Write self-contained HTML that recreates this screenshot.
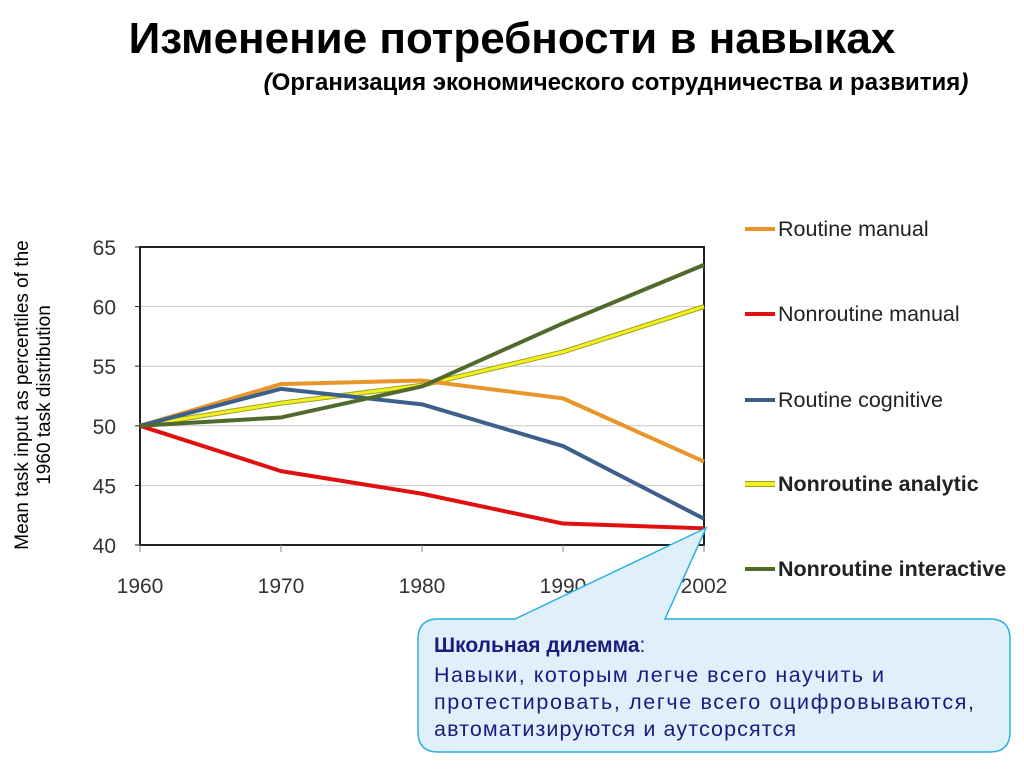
<!DOCTYPE html>
<html><head><meta charset="utf-8"><style>
body{margin:0;width:1024px;height:768px;background:#fff;overflow:hidden;font-family:"Liberation Sans","DejaVu Sans",sans-serif}
</style></head><body>
<svg width="1024" height="768" xmlns="http://www.w3.org/2000/svg">
<text x="512" y="53" text-anchor="middle" font-size="44" font-weight="bold" fill="#000">Изменение потребности в навыках</text>
<text x="616" y="90" text-anchor="middle" font-size="24" font-weight="bold" fill="#000"><tspan font-style="italic">(</tspan>Организация экономического сотрудничества и развития<tspan font-style="italic">)</tspan></text>
<g id="grid"></g>
<rect x="140" y="247" width="564" height="298" fill="none" stroke="#222" stroke-width="2"/>
<g id="axes"></g>
<g id="series"></g>
<g id="legend"></g>
<text transform="translate(28,395) rotate(-90)" text-anchor="middle" font-size="19" fill="#000"><tspan x="0" dy="0">Mean task input as percentiles of  the</tspan><tspan x="0" dy="22">1960 task distribution</tspan></text>
<g>
<path d="M440,619 L515,619 L706,528 L665,619 L990,619 Q1010,619 1010,639 L1010,732 Q1010,752 990,752 L438,752 Q418,752 418,732 L418,639 Q418,619 438,619 Z" fill="#dff0fb" stroke="#29b0e0" stroke-width="1.5"/>
<text x="434" y="652" font-size="21" fill="#1a1a80"><tspan font-weight="bold">Школьная дилемма</tspan>:</text>
<text x="434" y="682" font-size="21.5" fill="#1a1a80" textLength="450">Навыки, которым легче всего научить и</text>
<text x="434" y="709" font-size="21.5" fill="#1a1a80" textLength="540">протестировать, легче всего оцифровываются,</text>
<text x="434" y="736" font-size="21.5" fill="#1a1a80" textLength="362">автоматизируются и аутсорсятся</text>
</g>
</svg>
<script>
const categories=["1960","1970","1980","1990","2002"];
const yTicks=[40,45,50,55,60,65];
const routineManual=[50,53.5,53.8,52.3,47];
const nonroutineManual=[50,46.2,44.3,41.8,41.4];
const routineCognitive=[50,53.1,51.8,48.3,42.2];
const nonroutineAnalytic=[50,51.9,53.4,56.2,60];
const nonroutineInteractive=[50,50.7,53.3,58.6,63.5];
const seriesNames=["Routine manual","Nonroutine manual","Routine cognitive","Nonroutine analytic","Nonroutine interactive"];
const NS="http://www.w3.org/2000/svg";
const X0=140,X1=704,Y0=545,Y1=247;
function xs(i){return X0+(X1-X0)*i/(categories.length-1);}
function ys(v){return Y0-(v-40)/(65-40)*(Y0-Y1);}
function mk(t,a,p){const e=document.createElementNS(NS,t);for(const k in a)e.setAttribute(k,a[k]);p.appendChild(e);return e;}
const grid=document.getElementById('grid'),axes=document.getElementById('axes'),ser=document.getElementById('series'),leg=document.getElementById('legend');
yTicks.forEach(v=>{
 if(v>40&&v<65){const l=mk('line',{x1:X0,x2:X1,y1:ys(v),y2:ys(v),stroke:'#c8c8c8','stroke-width':1},grid);
 
 }
 const t=mk('text',{x:116,y:ys(v)+8,'text-anchor':'end','font-size':21,fill:'#333'},axes);t.textContent=v;
 
 
 mk('line',{x1:X0-5,x2:X0,y1:ys(v),y2:ys(v),stroke:'#222'},axes);
});
categories.forEach((c,i)=>{
 const t=mk('text',{x:xs(i),y:593,'text-anchor':'middle','font-size':21,fill:'#333'},axes);t.textContent=c;
 
 
 mk('line',{x1:xs(i),x2:xs(i),y1:Y0,y2:Y0+7,stroke:'#888'},axes);
});
const data=[routineManual,nonroutineManual,routineCognitive,nonroutineAnalytic,nonroutineInteractive];
const colors=["#e8952a","#e01010","#3d5f8c","#f0f020","#4f6a2c"];
const outline=[null,null,null,"#a0a020",null];
const order=[3,0,2,1,4];
order.forEach(k=>{
 const pts=data[k].map((v,i)=>xs(i)+','+ys(v)).join(' ');
 if(outline[k]){mk('polyline',{points:pts,fill:'none',stroke:outline[k],'stroke-width':5},ser);}
 const p=mk('polyline',{points:pts,fill:'none',stroke:colors[k],'stroke-width':outline[k]?3:4,'stroke-linejoin':'round'},ser);
 
 
});
const legY=[229,314,400,484,569];
seriesNames.forEach((n,k)=>{
 const g=mk('g',{},leg);
 
 
 if(outline[k])mk('line',{x1:745,x2:775,y1:legY[k],y2:legY[k],stroke:outline[k],'stroke-width':6},g);
 mk('line',{x1:745,x2:775,y1:legY[k],y2:legY[k],stroke:colors[k],'stroke-width':4},g);
 const t=mk('text',{x:778,y:legY[k]+7,'font-size':21.5,fill:'#222','font-weight':k>=3?'bold':'normal'},g);t.textContent=n;
});
</script>
</body></html>
